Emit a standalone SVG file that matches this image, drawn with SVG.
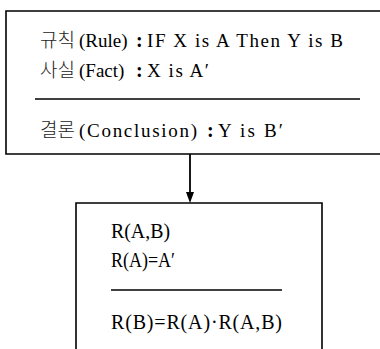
<svg xmlns="http://www.w3.org/2000/svg" width="380" height="349" viewBox="0 0 380 349">
<style>
.box{fill:none;stroke:#000;stroke-width:1.6}
.rule{stroke:#000;stroke-width:1.6}
.k{font-family:"Noto Sans CJK KR",sans-serif;font-size:19px;font-weight:300;fill:#222}
.t{font-family:"Liberation Serif","Noto Sans CJK KR",serif;font-size:19px;fill:#000}
.c{font-family:"Liberation Serif",serif;font-size:20px;font-weight:bold;fill:#000}
.m{font-family:"Liberation Serif",serif;font-size:20px;fill:#000}
</style>
<rect width="380" height="349" fill="#fff"/>
<g id="inference">
<path class="box" d="M390,11 L6,11 L6,154 L390,154"/>
<text class="k" x="40" y="47">규칙</text>
<text class="t" x="79" y="47">(Rule)</text>
<text class="c" x="136" y="47">:</text>
<text class="t" x="147" y="47" textLength="196" lengthAdjust="spacing">IF X is A Then Y is B</text>
<text class="k" x="40" y="77">사실</text>
<text class="t" x="79" y="77">(Fact)</text>
<text class="c" x="136" y="77">:</text>
<text class="t" x="147" y="77" textLength="62" lengthAdjust="spacing">X is A′</text>
<line class="rule" x1="35" y1="99" x2="360" y2="99"/>
<text class="k" x="40" y="137">결론</text>
<text class="t" x="79" y="137" textLength="118" lengthAdjust="spacing">(Conclusion)</text>
<text class="c" x="207" y="137">:</text>
<text class="t" x="218" y="137" textLength="65" lengthAdjust="spacing">Y is B′</text>
</g>
<g id="formula">
<path class="box" d="M76,352 L76,203 L322,203 L322,352"/>
<text class="m" x="111" y="238" textLength="59" lengthAdjust="spacingAndGlyphs">R(A,B)</text>
<text class="m" x="111" y="267" textLength="64" lengthAdjust="spacingAndGlyphs">R(A)=A′</text>
<line class="rule" x1="111" y1="290" x2="282" y2="290"/>
<text class="m" x="111" y="329" textLength="171" lengthAdjust="spacing">R(B)=R(A)·R(A,B)</text>
</g>
<g id="connectors">
<line x1="190" y1="154" x2="190" y2="194" stroke="#000" stroke-width="1.8"/>
<path d="M186,192 L194,192 L190,203 Z" fill="#000"/>
</g>
</svg>
